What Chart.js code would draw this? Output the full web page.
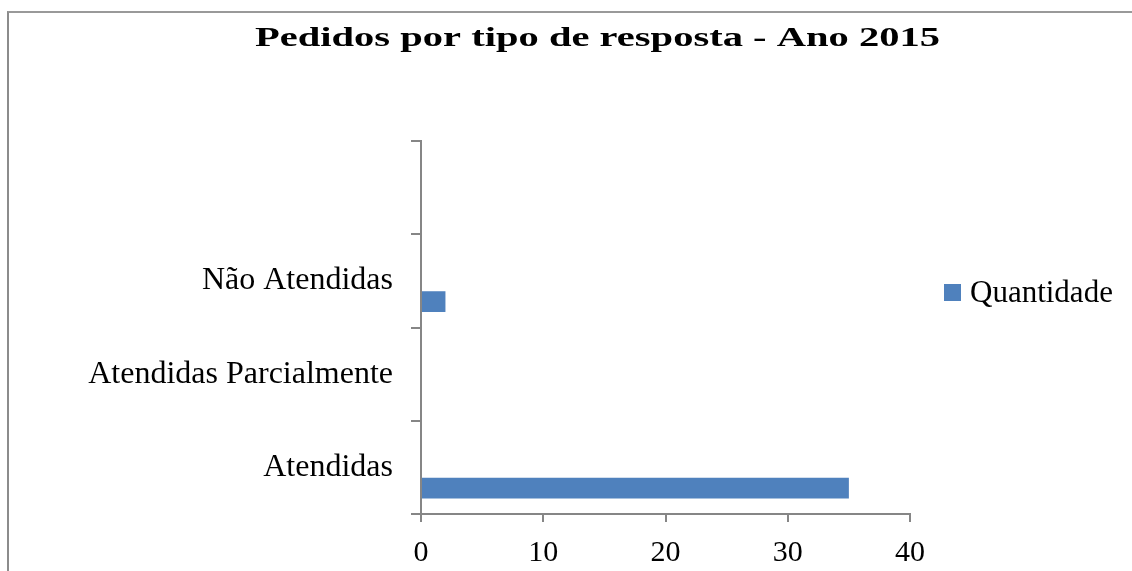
<!DOCTYPE html>
<html>
<head>
<meta charset="utf-8">
<script src="https://cdn.jsdelivr.net/npm/chart.js@4.4.1/dist/chart.umd.min.js"></script>
<style>
html, body { margin: 0; padding: 0; background: #ffffff; }
#wrap { position: relative; width: 1132px; height: 571px; overflow: hidden; }
#frame { position: absolute; left: 7px; top: 11px; right: -4px; bottom: -4px;
  border-left: 2px solid #8c8c8c; border-top: 2px solid #999999; }
canvas { position: absolute; left: 0; top: 0; }
</style>
</head>
<body>
<div id="wrap">
  <div id="frame"></div>
  <canvas id="c" width="1132" height="571"></canvas>
</div>
<script>
// ---- data ----
const titleText = 'Pedidos por tipo de resposta - Ano 2015';
const categories = ['Atendidas', 'Atendidas Parcialmente', 'Não Atendidas', ''];
const seriesName = 'Quantidade';
const quantidade = [35, 0, 2, null];
// two empty series in the original workbook (they only reserve bar slots)
const emptySeries1 = [null, null, null, null];
const emptySeries2 = [null, null, null, null];
const xMin = 0;
const xMax = 40;
const xStep = 10;

const SERIF = '"Liberation Serif", "Times New Roman", serif';
const BAR_BLUE = '#4F81BD';
const AXIS_GREY = '#868686';

const titlePlugin = {
  id: 'stretchedTitle',
  afterDraw(chart) {
    const ctx = chart.ctx;
    ctx.save();
    ctx.font = 'bold 27px ' + SERIF;
    ctx.fillStyle = '#000000';
    ctx.textBaseline = 'alphabetic';
    ctx.textAlign = 'center';
    const w = ctx.measureText(titleText).width;
    const targetW = 685;
    ctx.translate(597.5, 45.5);
    ctx.scale(targetW / w, 1);
    ctx.fillText(titleText, 0, 0);
    ctx.restore();
  }
};

const legendPlugin = {
  id: 'sideLegend',
  afterDraw(chart) {
    const ctx = chart.ctx;
    const ds = chart.data.datasets.find(d => d.label === seriesName);
    ctx.save();
    ctx.fillStyle = ds.backgroundColor;
    ctx.fillRect(944, 284, 17, 17);
    ctx.font = '31px ' + SERIF;
    ctx.fillStyle = '#000000';
    ctx.textBaseline = 'alphabetic';
    ctx.textAlign = 'left';
    ctx.fillText(ds.label, 970, 302);
    ctx.restore();
  }
};

new Chart(document.getElementById('c'), {
  type: 'bar',
  data: {
    labels: categories,
    datasets: [
      { label: ' ', data: emptySeries1, backgroundColor: '#C0504D' },
      { label: '  ', data: emptySeries2, backgroundColor: '#9BBB59' },
      { label: seriesName, data: quantidade, backgroundColor: BAR_BLUE }
    ]
  },
  options: {
    indexAxis: 'y',
    responsive: false,
    animation: false,
    devicePixelRatio: 1,
    categoryPercentage: 0.667,
    barPercentage: 1.0,
    layout: { padding: { left: 60, right: 222, top: 141, bottom: 1 } },
    plugins: {
      legend: { display: false },
      title: { display: false },
      tooltip: { enabled: false }
    },
    scales: {
      x: {
        type: 'linear',
        min: xMin,
        max: xMax,
        afterFit(scale) { scale.height = 56; },
        ticks: { stepSize: xStep, color: '#000000', padding: 13,
                 font: { family: SERIF, size: 30 } },
        grid: { drawOnChartArea: false, drawTicks: true, tickLength: 8,
                color: AXIS_GREY, lineWidth: 2 },
        border: { display: true, color: AXIS_GREY, width: 2 }
      },
      y: {
        type: 'category',
        reverse: true,
        offset: true,
        afterFit(scale) { scale.width = 361; },
        ticks: { color: '#000000', padding: 18, autoSkip: false,
                 font: { family: SERIF, size: 32 } },
        grid: { drawOnChartArea: false, drawTicks: true, tickLength: 10,
                offset: true, color: AXIS_GREY, lineWidth: 2 },
        border: { display: true, color: AXIS_GREY, width: 2 }
      }
    }
  },
  plugins: [titlePlugin, legendPlugin]
});
</script>
</body>
</html>
